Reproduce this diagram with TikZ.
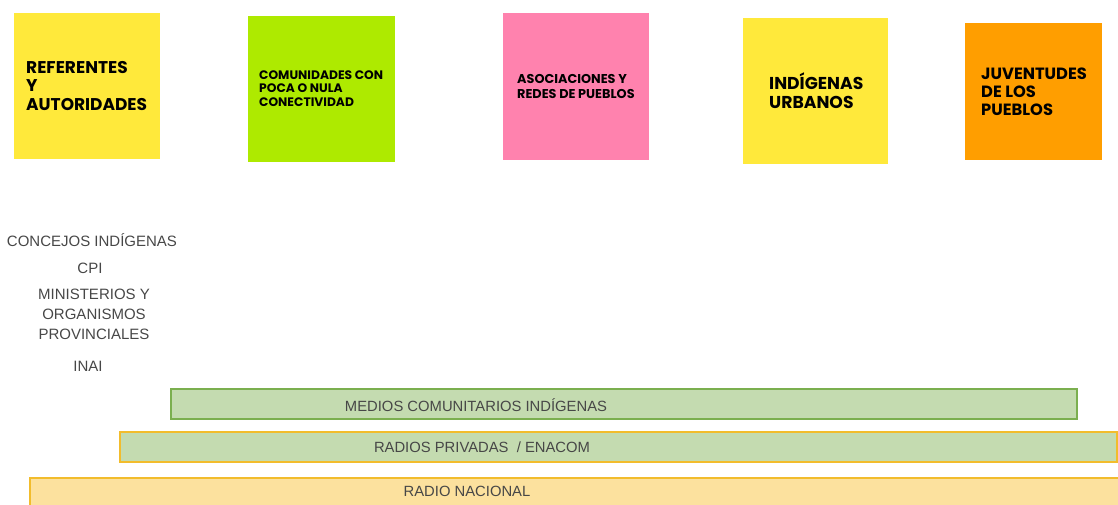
\documentclass[tikz,border=0pt]{standalone}
\usepackage{fontspec}
\setmainfont{Liberation Sans}
\newfontfamily\notefont{Poppins}[UprightFont=* Bold]
\definecolor{noteyellow}{HTML}{FFE93B}
\definecolor{notegreen}{HTML}{AEEA00}
\definecolor{notepink}{HTML}{FF82AE}
\definecolor{noteorange}{HTML}{FF9E00}
\definecolor{bargreen}{HTML}{C4DBB0}
\definecolor{bargreenline}{HTML}{7BAF4F}
\definecolor{barorangeline}{HTML}{F2BC2C}
\definecolor{baryellow}{HTML}{FCE19E}
\definecolor{graytext}{HTML}{474747}
\tikzset{
  note/.style={inner sep=0pt, outer sep=0pt},
  notetext/.style={anchor=west, inner sep=0pt, align=left, text=black},
  actor/.style={inner sep=0pt, align=center, text=graytext, font=\fontsize{15}{20}\selectfont},
  bar/.style={inner sep=0pt, line width=1.5pt},
  bartext/.style={inner sep=0pt, text=graytext, font=\fontsize{14.8}{16}\selectfont}
}
\begin{document}
\begin{tikzpicture}[x=1pt,y=-1pt]
\useasboundingbox (0,0) rectangle (1118,504);
% sticky notes
\fill[noteyellow] (14,13) rectangle (160,159);
\node[note] (n1) at (87,86) {};
\fill[notegreen] (248,16) rectangle (395,162);
\node[note] (n2) at (321.5,89) {};
\fill[notepink] (503,13) rectangle (649,160);
\node[note] (n3) at (576,86.5) {};
\fill[noteyellow] (743,18) rectangle (888,164);
\node[note] (n4) at (815.5,91) {};
\fill[noteorange] (965,23) rectangle (1102,160);
\node[note] (n5) at (1033.5,91.5) {};
\node[notetext, font=\notefont\fontsize{17}{18.5}\selectfont] (t1) at (26,86) {REFERENTES\\Y\\AUTORIDADES};
\node[notetext, font=\notefont\fontsize{12.3}{13.5}\selectfont] (t2) at (259,88.5) {COMUNIDADES CON\\POCA O NULA\\CONECTIVIDAD};
\node[notetext, font=\notefont\fontsize{12.8}{15}\selectfont] (t3) at (517,86.5) {ASOCIACIONES Y\\REDES DE PUEBLOS};
\node[notetext, font=\notefont\fontsize{17.2}{19}\selectfont] (t4) at (769,90.5) {INDÍGENAS\\URBANOS};
\node[notetext, font=\notefont\fontsize{16.3}{18}\selectfont] (t5) at (981,92) {JUVENTUDES\\DE LOS\\PUEBLOS};
% actors
\node[actor] (a1) at (92,240) {CONCEJOS INDÍGENAS};
\node[actor] (a2) at (90,268) {CPI};
\node[actor] (a3) at (94,314) {MINISTERIOS Y\\ORGANISMOS\\PROVINCIALES};
\node[actor] (a4) at (88,366) {INAI};
% bars
\draw[bar, fill=bargreen, draw=bargreenline] (171,389) rectangle (1077,419);
\node[bartext] (b1) at (476,405) {MEDIOS COMUNITARIOS INDÍGENAS};
\draw[bar, fill=bargreen, draw=barorangeline] (120,432) rectangle (1117,462);
\node[bartext] (b2) at (482,447) {RADIOS PRIVADAS \ / ENACOM};
\draw[bar, fill=baryellow, draw=barorangeline] (30,478) rectangle (1125,510);
\node[bartext] (b3) at (467,491) {RADIO NACIONAL};
\end{tikzpicture}
\end{document}
